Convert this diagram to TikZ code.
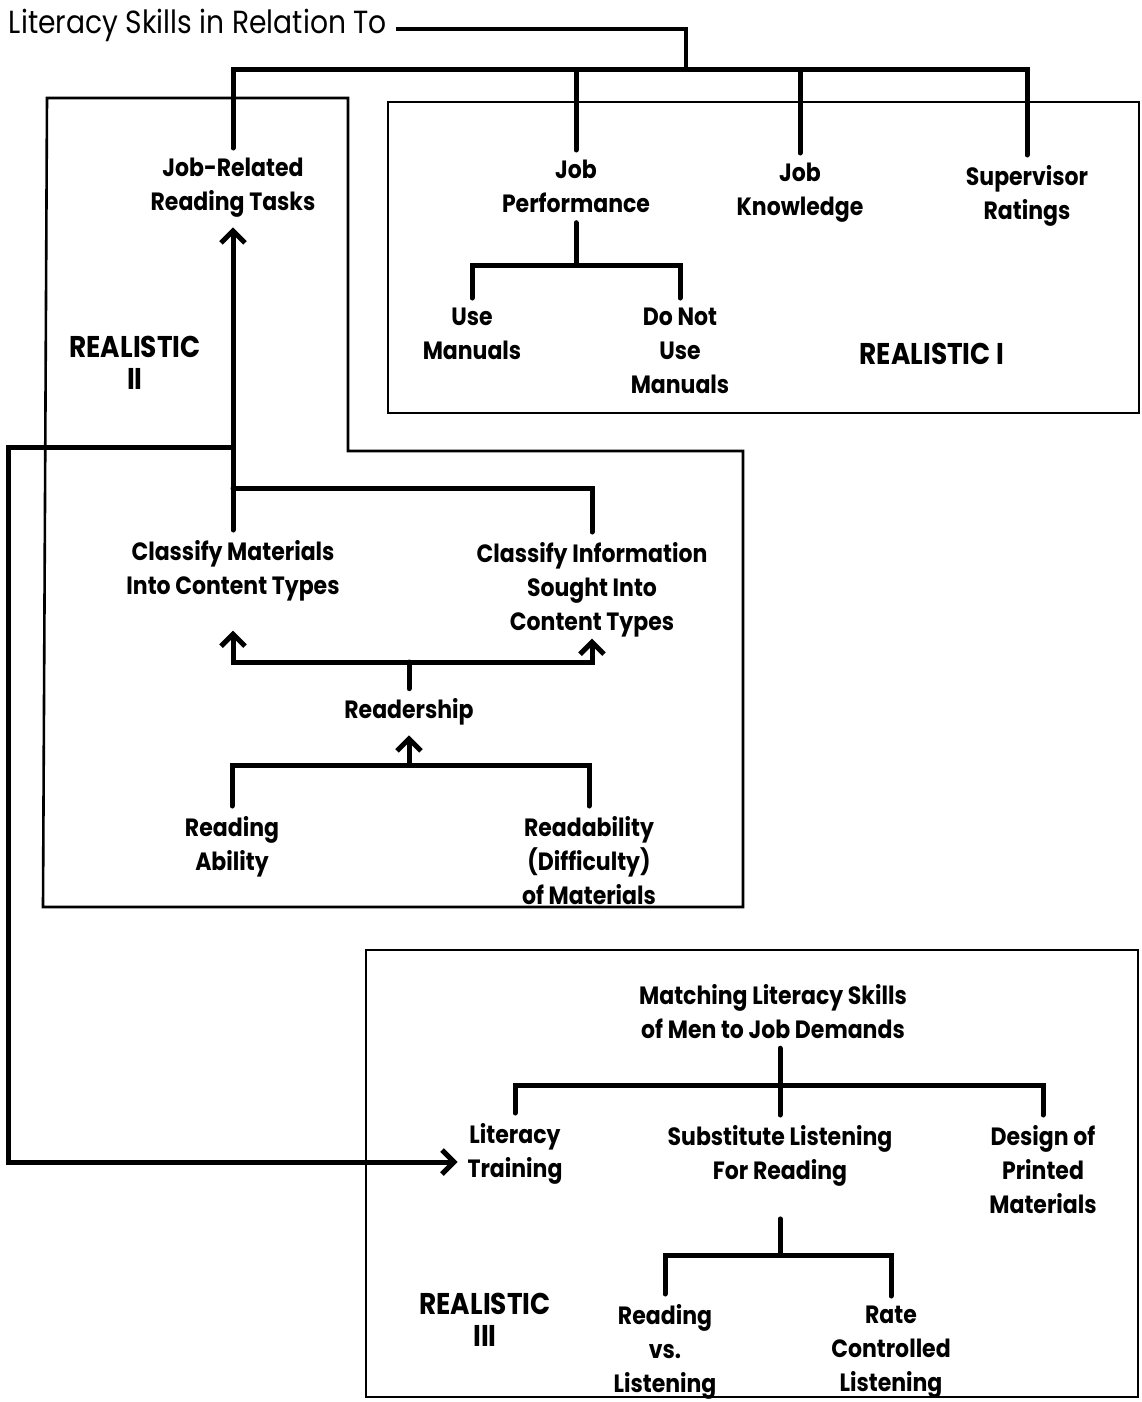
\documentclass[tikz,border=0pt]{standalone}
\usepackage{fontspec}
\setmainfont{Poppins}[FakeStretch=0.88]
\usetikzlibrary{arrows.meta}
\begin{document}
\begin{tikzpicture}[x=1pt,y=-1pt,
  lbl/.style={align=center,font=\bfseries\fontsize{25}{34}\selectfont,inner sep=0pt,outer sep=10pt},
  tag/.style={align=center,font=\bfseries\fontsize{30}{32}\selectfont,inner sep=0pt},
  conn/.style={line width=5pt,line join=miter,line cap=round},
  arr/.style={conn,-{Straight Barb[length=12pt,width=24pt]}},
  frame/.style={line width=2.6pt,line join=miter}]
\useasboundingbox (0,0) rectangle (1142,1402);

% frames
\draw[frame] (47,98) -- (348,98) -- (348,451) -- (743,451) -- (743,907) -- (43,907) -- cycle;
\draw[frame] (388,102) rectangle (1139,413);
\draw[frame] (366,950) rectangle (1138,1397);

% title
\node[anchor=west,font=\fontsize{32}{34}\selectfont,inner sep=0pt,outer sep=9pt] (title) at (0,25) {Literacy Skills in Relation To};
\coordinate (tj) at (686,70);
\draw[line width=4pt,line join=miter] ([yshift=-4pt]title.east) -| (tj);

% top level
\node[lbl,anchor=north] (jrrt) at (233,148) {Job-Related\\Reading Tasks};
\node[lbl,anchor=north] (jperf) at (576,150) {Job\\Performance};
\node[lbl,anchor=north] (jknow) at (800,153) {Job\\Knowledge};
\node[lbl,anchor=north] (supr) at (1027,155) {Supervisor\\Ratings};
\draw[conn] (jrrt.north) |- (supr.north |- tj) -- (supr.north);
\draw[conn] (jperf.north |- tj) -- (jperf.north);
\draw[conn] (jknow.north |- tj) -- (jknow.north);

% Realistic I
\coordinate (b1) at (576,265);
\node[lbl,anchor=north] (usem) at (472,298) {Use\\Manuals};
\node[lbl,anchor=north] (dnum) at (680,298) {Do Not\\Use\\Manuals};
\draw[conn] (jperf.south) -- (b1);
\draw[conn] (usem.north) |- (dnum.north |- b1) -- (dnum.north);
\node[tag] (r1) at (932,354) {REALISTIC I};

% Realistic II
\node[tag] (r2) at (135,363) {REALISTIC\\II};
\node[lbl,anchor=north] (cmat) at (233,530) {Classify Materials\\Into Content Types};
\node[lbl,anchor=north] (cinf) at (592,532) {Classify Information\\Sought Into\\Content Types};
\coordinate (cb) at (233,488);
\coordinate (lk) at (233,447);
\coordinate (ay) at (0,1162);
\draw[arr] (cmat.north) -- (jrrt.south);
\draw[conn] (cb) -| (cinf.north);
\node[lbl] (rdr) at (409,712) {Readership};
\coordinate (rb) at (409,662);
\coordinate (lb) at (409,765);
\draw[conn] (rdr.north) -- (rb);
\draw[arr] (rb) -| ([yshift=-20pt]cmat.south);
\draw[arr] (rb) -| ([yshift=8pt]cinf.south);
\draw[arr] (lb) -- (rdr.south);
\node[lbl,anchor=north] (rabl) at (232,806) {Reading\\Ability};
\node[lbl,anchor=north] (rdbl) at (589,806) {Readability\\(Difficulty)\\of Materials};
\draw[conn] (rabl.north) |- (rdbl.north |- lb) -- (rdbl.north);

% Realistic III
\node[lbl,anchor=north] (match) at (773,974) {Matching Literacy Skills\\of Men to Job Demands};
\coordinate (mb) at (780,1085);
\node[lbl,anchor=north] (ltr) at (515,1113) {Literacy\\Training};
\node[lbl,anchor=north] (sub) at (780,1115) {Substitute Listening\\For Reading};
\node[lbl,anchor=north] (dpm) at (1043,1115) {Design of\\Printed\\Materials};
\draw[conn] (match.south -| mb) -- (sub.north);
\draw[conn] (ltr.north) |- (dpm.north |- mb) -- (dpm.north);
\draw[arr] (lk) -| (8,1162) -- (ltr.west |- ay);
\coordinate (sb) at (780,1255);
\draw[conn] ([yshift=-23pt]sub.south) -- (sb);
\node[lbl,anchor=north] (rvl) at (665,1294) {Reading\\vs.\\Listening};
\node[lbl,anchor=north] (rcl) at (891,1296) {Rate\\Controlled\\Listening};
\draw[conn] (rvl.north) |- (rcl.north |- sb) -- (rcl.north);
\node[tag] (r3) at (485,1320) {REALISTIC\\III};
\end{tikzpicture}
\end{document}
